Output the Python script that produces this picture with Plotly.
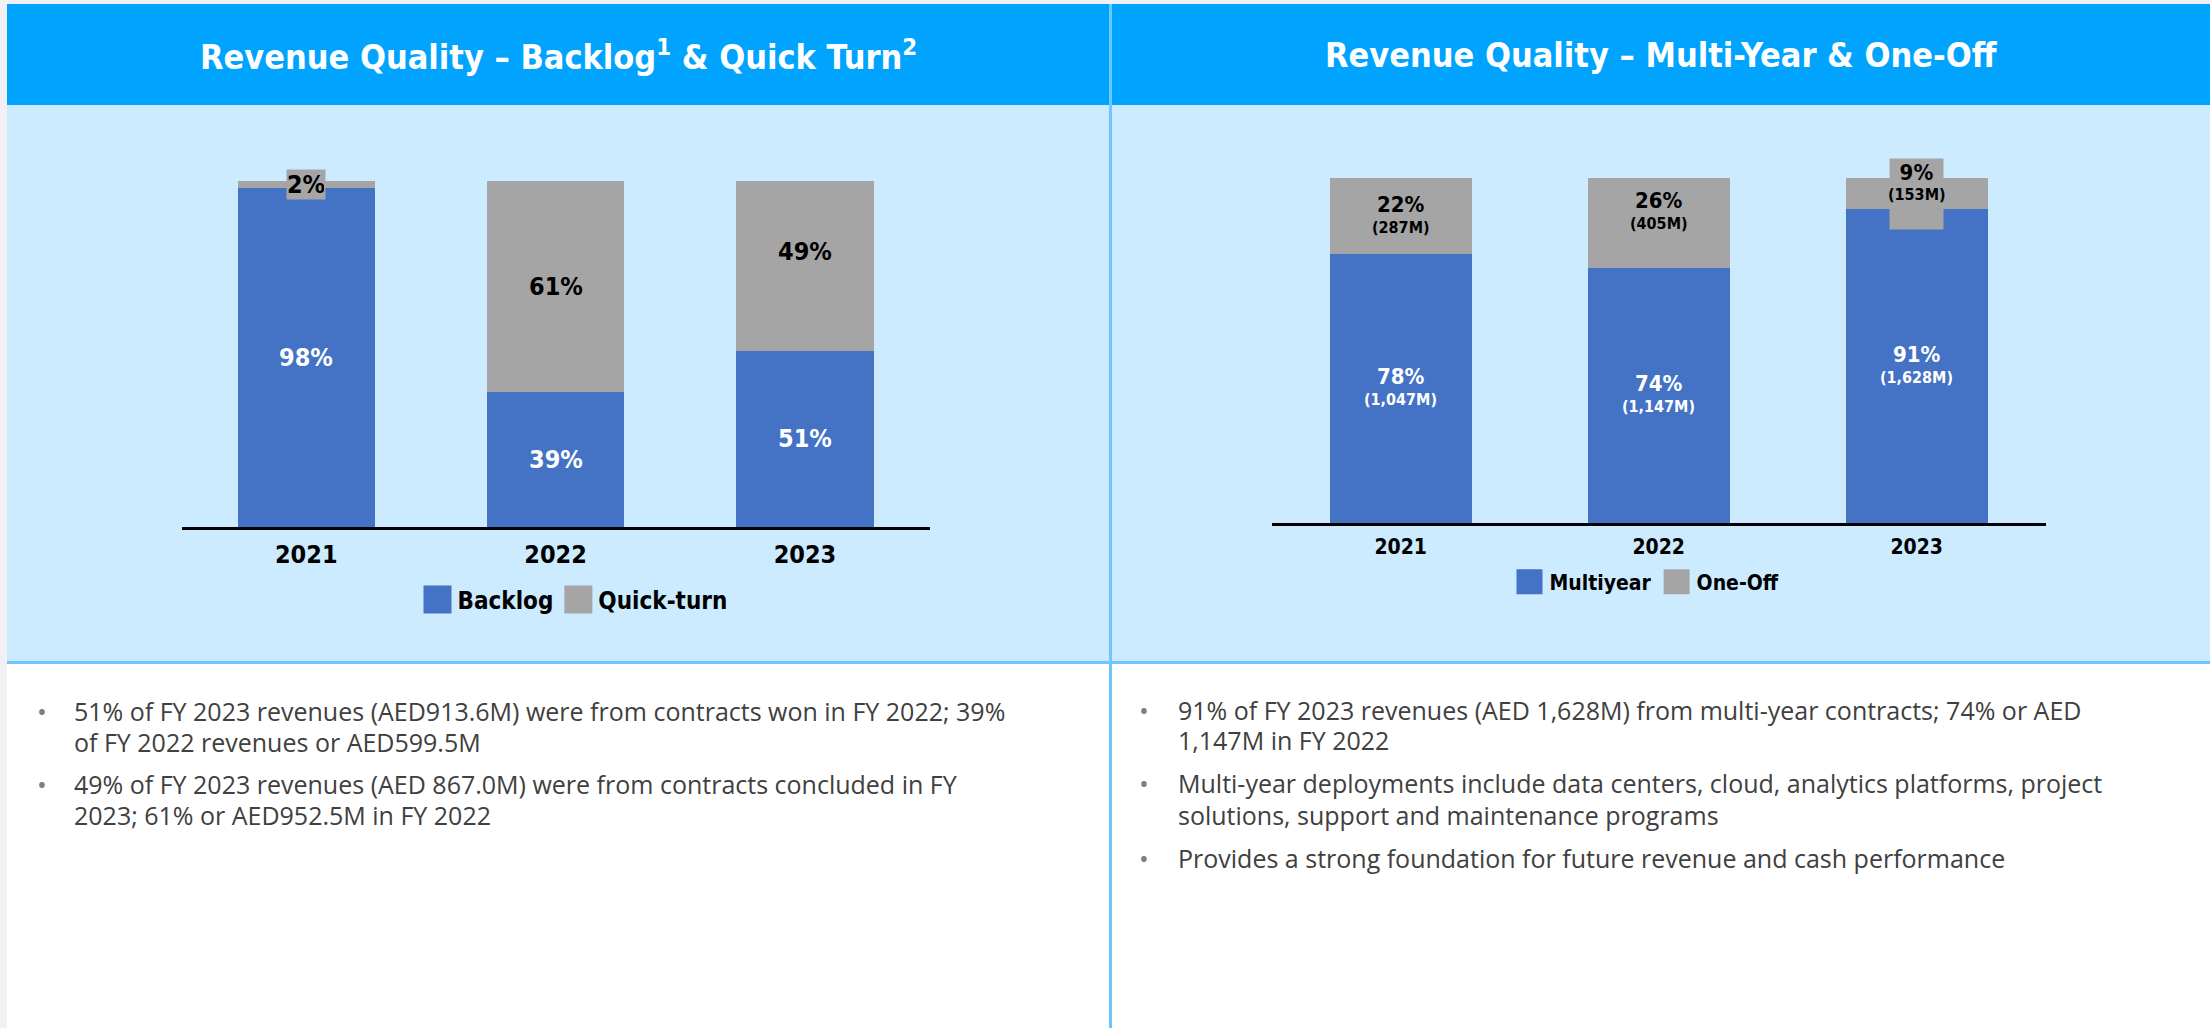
import plotly.graph_objects as go

W, H = 2210, 1028

# ---------------- data ----------------
years = ["2021", "2022", "2023"]
backlog_pct = [98, 39, 51]
quickturn_pct = [2, 61, 49]
multiyear_pct = [78, 74, 91]
multiyear_amt = ["1,047M", "1,147M", "1,628M"]
oneoff_pct = [22, 26, 9]
oneoff_amt = ["287M", "405M", "153M"]

left_title = "Revenue Quality – Backlog<sup>1</sup> & Quick Turn<sup>2</sup>"
right_title = "Revenue Quality – Multi-Year & One-Off"

left_bullets = [
    ["51% of FY 2023 revenues (AED913.6M) were from contracts won in FY 2022; 39%",
     "of FY 2022 revenues or AED599.5M"],
    ["49% of FY 2023 revenues (AED 867.0M) were from contracts concluded in FY",
     "2023; 61% or AED952.5M in FY 2022"],
]
right_bullets = [
    ["91% of FY 2023 revenues (AED 1,628M) from multi-year contracts; 74% or AED",
     "1,147M in FY 2022"],
    ["Multi-year deployments include data centers, cloud, analytics platforms, project",
     "solutions, support and maintenance programs"],
    ["Provides a strong foundation for future revenue and cash performance"],
]

# ---------------- style ----------------
BLUE = "#4472C4"
GREY = "#A5A5A5"
HEADER = "#00A4FF"
LIGHT = "#CCEBFF"
DIV = "#6CC7FF"
STRIP = "#F1F1F5"
TEXT = "#404040"
NARROW = "Liberation Sans Narrow, Arial Narrow, DejaVu Sans Condensed, sans-serif"
BODY = "Open Sans, Noto Sans, sans-serif"


def px(x):
    return x / W


def py(y):
    return 1 - y / H


fig = go.Figure()
fig.add_trace(go.Bar(x=years, y=backlog_pct, name="Backlog", marker=dict(color=BLUE, line=dict(width=0)),
                     xaxis="x", yaxis="y", legend="legend", hoverinfo="x+y+name"))
fig.add_trace(go.Bar(x=years, y=quickturn_pct, name="Quick-turn", marker=dict(color=GREY, line=dict(width=0)),
                     xaxis="x", yaxis="y", legend="legend", hoverinfo="x+y+name"))
fig.add_trace(go.Bar(x=years, y=multiyear_pct, name="Multiyear", marker=dict(color=BLUE, line=dict(width=0)),
                     xaxis="x2", yaxis="y2", legend="legend2", hoverinfo="x+y+name"))
fig.add_trace(go.Bar(x=years, y=oneoff_pct, name="One-Off", marker=dict(color=GREY, line=dict(width=0)),
                     xaxis="x2", yaxis="y2", legend="legend2", hoverinfo="x+y+name"))

annotations = []

# titles
for title, cx in ((left_title, 558), (right_title, 1661)):
    annotations.append(dict(text=title, x=px(cx), y=py(55), xref="paper", yref="paper",
                            xanchor="center", yanchor="middle", showarrow=False,
                            font=dict(family=NARROW, size=34, color="white", weight="bold")))

# left chart labels (x given as category index)
left_shift_top = {"2023": 14}
for i, yr in enumerate(years):
    b = backlog_pct[i]
    q = quickturn_pct[i]
    annotations.append(dict(text=f"{b}%", x=i, y=b / 2, xref="x", yref="y", showarrow=False,
                            font=dict(family=NARROW, size=25, color="white", weight="bold")))
    if q < 5:
        annotations.append(dict(text=f"{q}%", x=i, y=b + q / 2, xref="x", yref="y", showarrow=False,
                                bgcolor=GREY, width=36, height=27, borderpad=1,
                                font=dict(family=NARROW, size=25, color="black", weight="bold")))
    else:
        annotations.append(dict(text=f"{q}%", x=i, y=b + q / 2, xref="x", yref="y", showarrow=False,
                                yshift=left_shift_top.get(yr, 0),
                                font=dict(family=NARROW, size=25, color="black", weight="bold")))

# right chart labels
right_shift_top = {"2022": 11, "2023": 11}
for i, yr in enumerate(years):
    m = multiyear_pct[i]
    o = oneoff_pct[i]
    annotations.append(dict(text=f"{m}%", x=i, y=m / 2, xref="x2", yref="y2", showarrow=False,
                            yshift=11.5, font=dict(family=NARROW, size=22, color="white", weight="bold")))
    annotations.append(dict(text=f"({multiyear_amt[i]})", x=i, y=m / 2, xref="x2", yref="y2", showarrow=False,
                            yshift=-11.5, font=dict(family=NARROW, size=16, color="white", weight="bold")))
    sh = right_shift_top.get(yr, 0)
    if o < 10:
        annotations.append(dict(text=f"{o}%", x=i, y=m + o / 2, xref="x2", yref="y2", showarrow=False,
                                bgcolor=GREY, width=51, height=68, borderpad=1, valign="top",
                                font=dict(family=NARROW, size=22, color="black", weight="bold")))
    else:
        annotations.append(dict(text=f"{o}%", x=i, y=m + o / 2, xref="x2", yref="y2", showarrow=False,
                                yshift=11.5 + sh,
                                font=dict(family=NARROW, size=22, color="black", weight="bold")))
    annotations.append(dict(text=f"({oneoff_amt[i]})", x=i, y=m + o / 2, xref="x2", yref="y2", showarrow=False,
                            yshift=-11.5 + sh, font=dict(family=NARROW, size=16, color="black", weight="bold")))


# bullets
def add_bullets(bullets, xb, xt, line_ys):
    k = 0
    for lines in bullets:
        for j, line in enumerate(lines):
            yy = line_ys[k]
            if j == 0:
                annotations.append(dict(text="•", x=px(xb), y=py(yy), xref="paper", yref="paper",
                                        xanchor="center", yanchor="middle", showarrow=False,
                                        font=dict(family=BODY, size=26, color="#7F7F7F")))
            annotations.append(dict(text=line, x=px(xt), y=py(yy), xref="paper", yref="paper",
                                    xanchor="left", yanchor="middle", showarrow=False,
                                    font=dict(family=BODY, size=25, color=TEXT)))
            k += 1


add_bullets(left_bullets, 42, 72, [711, 742, 784, 815])
add_bullets(right_bullets, 1144, 1176, [710, 740, 783, 815, 858])

shapes = [
    dict(type="rect", xref="paper", yref="paper", x0=px(7), x1=1, y0=0, y1=py(4),
         fillcolor="white", line=dict(width=0), layer="below"),
    dict(type="rect", xref="paper", yref="paper", x0=px(7), x1=1, y0=py(105), y1=py(4),
         fillcolor=HEADER, line=dict(width=0), layer="below"),
    dict(type="rect", xref="paper", yref="paper", x0=px(7), x1=1, y0=py(662), y1=py(105),
         fillcolor=LIGHT, line=dict(width=0), layer="below"),
    dict(type="line", xref="paper", yref="paper", x0=px(7), x1=1, y0=py(662.5), y1=py(662.5),
         line=dict(color=DIV, width=3), layer="below"),
    dict(type="line", xref="paper", yref="paper", x0=px(1110.5), x1=px(1110.5), y0=0, y1=py(4),
         line=dict(color=DIV, width=3), layer="below"),
]

axis_common = dict(type="category", range=[-0.5, 2.5], showline=True, linecolor="black", linewidth=3,
                   ticks="", showgrid=False, zeroline=False, fixedrange=True)
yaxis_common = dict(range=[0, 100], visible=False, showgrid=False, zeroline=False, fixedrange=True)

fig.update_layout(
    width=W, height=H, autosize=False,
    margin=dict(l=0, r=0, t=0, b=0),
    paper_bgcolor=STRIP, plot_bgcolor="rgba(0,0,0,0)",
    barmode="stack", bargap=0.45,
    xaxis=dict(domain=[px(181.6), px(929.6)], anchor="y", ticklabelstandoff=3,
               tickfont=dict(family=NARROW, size=25, color="black", weight="bold"), **axis_common),
    yaxis=dict(domain=[py(527), py(181)], anchor="x", **yaxis_common),
    xaxis2=dict(domain=[px(1271.7), px(2045.7)], anchor="y2", ticklabelstandoff=3,
                tickfont=dict(family=NARROW, size=21, color="black", weight="bold"), **axis_common),
    yaxis2=dict(domain=[py(523), py(178)], anchor="x2", **yaxis_common),
    legend=dict(orientation="h", x=px(575), xanchor="center", y=py(600), yanchor="middle",
                traceorder="normal",
                font=dict(family=NARROW, size=24, color="black", weight="bold"),
                bgcolor="rgba(0,0,0,0)", itemwidth=30, itemclick=False, itemdoubleclick=False),
    legend2=dict(orientation="h", x=px(1647), xanchor="center", y=py(582), yanchor="middle",
                 traceorder="normal",
                 font=dict(family=NARROW, size=21, color="black", weight="bold"),
                 bgcolor="rgba(0,0,0,0)", itemwidth=30, itemclick=False, itemdoubleclick=False),
    annotations=annotations,
    shapes=shapes,
    showlegend=True,
)

post = """
document.body.style.margin='0';
function fixLegendKeys(){
  document.querySelectorAll('.legendpoints path').forEach(function(p){
    p.setAttribute('d','M14,14H-14V-14H14Z');
  });
  document.querySelectorAll('.legend2 .legendpoints path').forEach(function(p){
    p.setAttribute('d','M13,12.5H-13V-12.5H13Z');
  });
}
fixLegendKeys();
setTimeout(fixLegendKeys, 50);
setTimeout(fixLegendKeys, 300);
setTimeout(fixLegendKeys, 1000);
var gd = document.getElementById('{plot_id}');
if (gd && gd.on) { gd.on('plotly_afterplot', fixLegendKeys); }
"""

fig.write_html("out.html", post_script=post, config={"displayModeBar": False})
